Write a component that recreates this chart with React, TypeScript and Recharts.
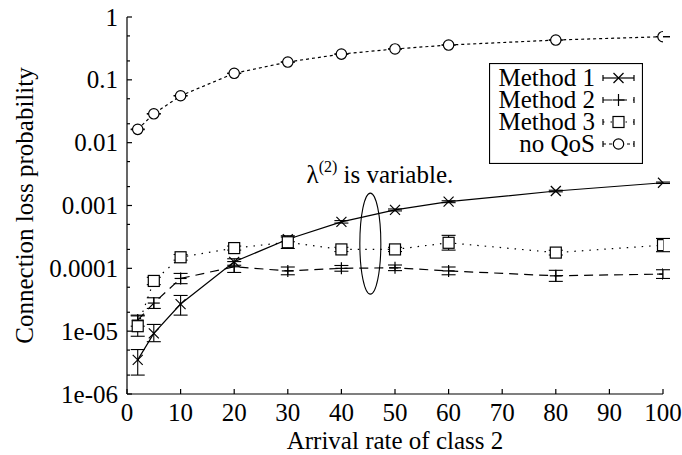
import React from 'react';
import { LineChart, Line, XAxis, YAxis, ErrorBar, ReferenceDot, Legend } from 'recharts';

const FONT = 'Liberation Serif';
const TXT: React.CSSProperties = { fontFamily: FONT };

const xCategories = [2, 5, 10, 20, 30, 40, 50, 60, 80, 100];
const method1 = [3.5e-6, 9.2e-6, 2.7e-5, 1.27e-4, 2.9e-4, 5.5e-4, 8.5e-4, 1.15e-3, 1.7e-3, 2.3e-3];
const method1Err = [[1.5e-6, 1.6e-6], [2.4e-6, 3.6e-6], [0.9e-5, 1.0e-5], [1.5e-5, 1.5e-5], [2.5e-5, 2.5e-5], [2.5e-5, 2.5e-5], [3e-5, 3e-5], [4e-5, 4e-5], [5e-5, 5e-5], [6e-5, 6e-5]];
const method2 = [1.5e-5, 2.8e-5, 6.9e-5, 1.06e-4, 9.1e-5, 1.0e-4, 1.02e-4, 9.1e-5, 7.6e-5, 8.1e-5];
const method2Err = [[3e-6, 3e-6], [5e-6, 6e-6], [1.2e-5, 1.4e-5], [2e-5, 2.2e-5], [1.2e-5, 1.4e-5], [1e-5, 1.1e-5], [1e-5, 1.1e-5], [1.2e-5, 1.4e-5], [1.4e-5, 1.7e-5], [1.2e-5, 1.4e-5]];
const method3 = [1.2e-5, 6.3e-5, 1.5e-4, 2.1e-4, 2.6e-4, 2.0e-4, 2.0e-4, 2.55e-4, 1.78e-4, 2.34e-4];
const method3Err = [[3.7e-6, 5.5e-6], [8e-6, 9e-6], [1.5e-5, 1.6e-5], [1.5e-5, 1.6e-5], [5.3e-5, 7e-5], [1.5e-5, 1.6e-5], [1.5e-5, 1.6e-5], [6e-5, 8e-5], [1.5e-5, 1.6e-5], [5e-5, 6.5e-5]];
const noQoS = [0.0163, 0.0288, 0.0558, 0.127, 0.192, 0.257, 0.31, 0.358, 0.43, 0.486];
const noQoSErr = [[2e-4, 2e-4], [3e-4, 3e-4], [5e-4, 5e-4], [1e-3, 1e-3], [1.5e-3, 1.5e-3], [2e-3, 2e-3], [2e-3, 2e-3], [2.5e-3, 2.5e-3], [3e-3, 3e-3], [3e-3, 3e-3]];

const xTicks = [0, 10, 20, 30, 40, 50, 60, 70, 80, 90, 100];
const yMajorTicks = [1e-6, 1e-5, 1e-4, 1e-3, 1e-2, 1e-1, 1];
const yMajorLabels = ['1e-06', '1e-05', '0.0001', '0.001', '0.01', '0.1', '1'];
const yMinorTicks = [2e-6, 5e-6, 2e-5, 5e-5, 2e-4, 5e-4, 2e-3, 5e-3, 2e-2, 5e-2, 0.2, 0.5];
const yAllTicks = [...yMajorTicks, ...yMinorTicks].sort((a, b) => a - b);

const annotationPos = { x: 33.5, y: 2.27e-3 };
const ellipsePos = { x: 45.4, y: 2.47e-4 };

const data = xCategories.map((x, i) => ({
  x,
  m1: method1[i],
  e1: method1Err[i],
  m2: method2[i],
  e2: method2Err[i],
  m3: method3[i],
  e3: method3Err[i],
  nq: noQoS[i],
  eq: noQoSErr[i],
}));

const majorIndex = (v: number) => yMajorTicks.findIndex((t) => Math.abs(t - v) / t < 1e-6);

const XMark = ({ cx, cy }: any) => (
  <g>
    <line x1={cx - 5} y1={cy - 5} x2={cx + 5} y2={cy + 5} stroke="#000" strokeWidth={1.2} />
    <line x1={cx - 5} y1={cy + 5} x2={cx + 5} y2={cy - 5} stroke="#000" strokeWidth={1.2} />
  </g>
);
const PlusMark = ({ cx, cy }: any) => (
  <g>
    <line x1={cx - 6} y1={cy} x2={cx + 6} y2={cy} stroke="#000" strokeWidth={1.2} />
    <line x1={cx} y1={cy - 6} x2={cx} y2={cy + 6} stroke="#000" strokeWidth={1.2} />
  </g>
);
const SquareMark = ({ cx, cy }: any) => (
  <rect x={cx - 5.5} y={cy - 5.5} width={11} height={11} fill="#fff" stroke="#000" strokeWidth={1.2} />
);
const CircleMark = ({ cx, cy }: any) => (
  <circle cx={cx} cy={cy} r={5.2} fill="#fff" stroke="#000" strokeWidth={1.2} />
);

const seriesCfg = [
  { key: 'm1', err: 'e1', name: 'Method 1', dash: undefined as string | undefined, Mark: XMark },
  { key: 'm2', err: 'e2', name: 'Method 2', dash: '9 6', Mark: PlusMark },
  { key: 'm3', err: 'e3', name: 'Method 3', dash: '1.5 6', Mark: SquareMark },
  { key: 'nq', err: 'eq', name: 'no QoS', dash: '3 3', Mark: CircleMark },
];

const BottomTick = (props: any) => {
  const { x, y, payload } = props;
  return (
    <g>
      <line x1={x} y1={y} x2={x} y2={y - 5} stroke="#000" strokeWidth={1.2} />
      <text x={x} y={y + 27} textAnchor="middle" fontSize={25} style={TXT} fill="#000">
        {payload.value}
      </text>
    </g>
  );
};
const TopTick = (props: any) => {
  const { x, y } = props;
  return <line x1={x} y1={y} x2={x} y2={y + 5} stroke="#000" strokeWidth={1.2} />;
};
const LeftTick = (props: any) => {
  const { x, y, payload } = props;
  const mi = majorIndex(payload.value);
  const len = mi >= 0 ? 5 : 3;
  return (
    <g>
      <line x1={x} y1={y} x2={x + len} y2={y} stroke="#000" strokeWidth={1.2} />
      {mi >= 0 && (
        <text x={x - 9} y={y + 8.5} textAnchor="end" fontSize={25} style={TXT} fill="#000">
          {yMajorLabels[mi]}
        </text>
      )}
    </g>
  );
};
const RightTick = (props: any) => {
  const { x, y, payload } = props;
  const mi = majorIndex(payload.value);
  const len = mi >= 0 ? 5 : 3;
  return <line x1={x} y1={y} x2={x - len} y2={y} stroke="#000" strokeWidth={1.2} />;
};

const LegendBox = () => {
  const w = 154;
  const h = 101;
  const rowY = [15, 37, 59, 81];
  return (
    <svg width={w} height={h} style={{ display: 'block' }}>
      <rect x={0.5} y={0.5} width={w - 1} height={h - 1} fill="#fff" stroke="#000" strokeWidth={1.2} />
      {seriesCfg.map((s, i) => {
        const cy = rowY[i];
        const x1 = 114;
        const x2 = 145;
        const cx = (x1 + x2) / 2;
        const M = s.Mark;
        return (
          <g key={s.key}>
            <text x={106} y={cy + 8} textAnchor="end" fontSize={25} style={TXT} fill="#000">
              {s.name}
            </text>
            <line x1={x1} y1={cy} x2={x2} y2={cy} stroke="#000" strokeWidth={1.2} strokeDasharray={s.dash} />
            <line x1={x1} y1={cy - 3} x2={x1} y2={cy + 3} stroke="#000" strokeWidth={1.2} />
            <line x1={x2} y1={cy - 3} x2={x2} y2={cy + 3} stroke="#000" strokeWidth={1.2} />
            <M cx={cx} cy={cy} />
          </g>
        );
      })}
    </svg>
  );
};

const YTitle = (props: any) => {
  const vb = props.viewBox || {};
  const cx = (vb.x || 0) + 24;
  const cy = (vb.y || 0) + (vb.height || 0) / 2;
  return (
    <text x={cx} y={cy} transform={`rotate(-90 ${cx} ${cy})`} textAnchor="middle" dominantBaseline="central" fontSize={25} style={TXT} fill="#000">
      Connection loss probability
    </text>
  );
};
const XTitle = (props: any) => {
  const vb = props.viewBox || {};
  const cx = (vb.x || 0) + (vb.width || 0) / 2;
  const y = (vb.y || 0) + 55;
  return (
    <text x={cx} y={y} textAnchor="middle" fontSize={25} style={TXT} fill="#000">
      Arrival rate of class 2
    </text>
  );
};

const AnnotationText = (props: any) => {
  const { cx, cy } = props;
  return (
    <text x={cx} y={cy} fontSize={25} style={TXT} fill="#000">
      <tspan>λ</tspan>
      <tspan fontSize={16} dy={-11}>(2)</tspan>
      <tspan fontSize={25} dy={11}> is variable.</tspan>
    </text>
  );
};
const AnnotationEllipse = (props: any) => {
  const { cx, cy } = props;
  return <ellipse cx={cx} cy={cy} rx={10.5} ry={50.5} fill="none" stroke="#000" strokeWidth={1.1} />;
};

export default function App() {
  return (
    <div style={{ position: 'absolute', left: 0, top: 0, background: '#fff', fontFamily: FONT }}>
      <LineChart width={682} height={455} data={data} margin={{ top: 17, right: 19, bottom: 0, left: 0 }}>
        <XAxis
          dataKey="x"
          type="number"
          domain={[0, 100]}
          ticks={xTicks}
          interval={0}
          height={61}
          tickSize={0}
          tickMargin={0}
          tickLine={false}
          axisLine={{ stroke: '#000', strokeWidth: 1.2 }}
          tick={<BottomTick />}
          label={<XTitle />}
          allowDataOverflow
        />
        <XAxis
          xAxisId="top"
          orientation="top"
          dataKey="x"
          type="number"
          domain={[0, 100]}
          ticks={xTicks}
          interval={0}
          height={0}
          tickSize={0}
          tickMargin={0}
          tickLine={false}
          axisLine={{ stroke: '#000', strokeWidth: 1.2 }}
          tick={<TopTick />}
          allowDataOverflow
        />
        <YAxis
          type="number"
          scale="log"
          domain={[1e-6, 1]}
          ticks={yAllTicks}
          interval={0}
          width={127}
          tickSize={0}
          tickMargin={0}
          tickLine={false}
          axisLine={{ stroke: '#000', strokeWidth: 1.2 }}
          tick={<LeftTick />}
          label={<YTitle />}
          allowDataOverflow
        />
        <YAxis
          yAxisId="right"
          orientation="right"
          type="number"
          scale="log"
          domain={[1e-6, 1]}
          ticks={yAllTicks}
          interval={0}
          width={0}
          tickSize={0}
          tickMargin={0}
          tickLine={false}
          axisLine={{ stroke: '#000', strokeWidth: 1.2 }}
          tick={<RightTick />}
          allowDataOverflow
        />
        {seriesCfg.map((s) => {
          const M = s.Mark;
          return (
            <Line
              key={s.key}
              dataKey={s.key}
              name={s.name}
              type="linear"
              stroke="#000"
              strokeWidth={1.2}
              strokeDasharray={s.dash}
              isAnimationActive={false}
              dot={(p: any) => <M key={`${s.key}-${p.index}`} cx={p.cx} cy={p.cy} />}
              activeDot={false}
            >
              <ErrorBar dataKey={s.err} direction="y" width={7} stroke="#000" strokeWidth={1.1} isAnimationActive={false} />
            </Line>
          );
        })}
        <ReferenceDot x={ellipsePos.x} y={ellipsePos.y} r={1} shape={<AnnotationEllipse />} />
        <ReferenceDot x={annotationPos.x} y={annotationPos.y} r={1} shape={<AnnotationText />} />
        <Legend
          layout="horizontal"
          verticalAlign="middle"
          align="center"
          content={<LegendBox />}
          wrapperStyle={{ left: 489, top: 63, width: 154, height: 101 }}
        />
      </LineChart>
    </div>
  );
}
